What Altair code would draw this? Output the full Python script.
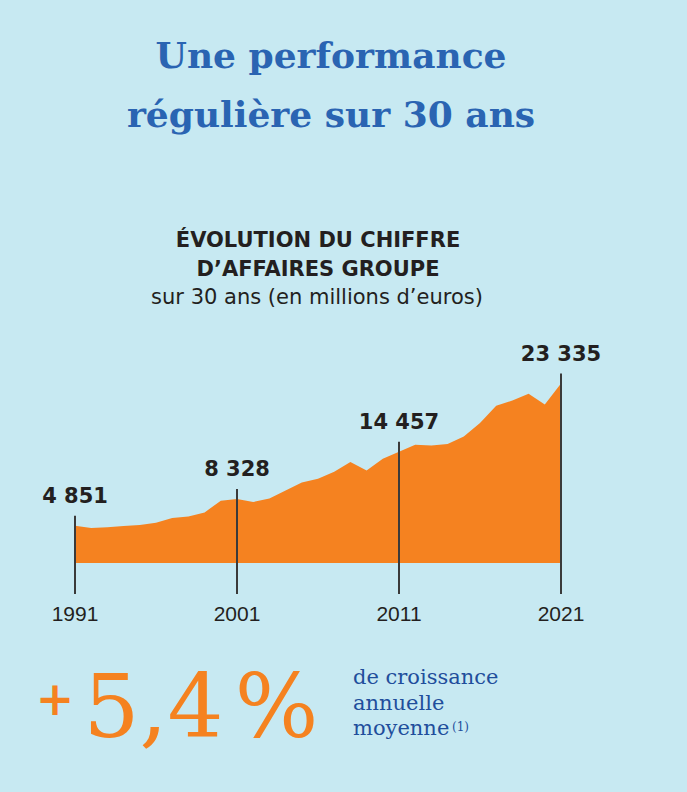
import altair as alt
import pandas as pd

# Group revenue, millions of euros
years = list(range(1991, 2022))
revenue = [
    4851, 4550, 4640, 4800, 4940, 5240, 5850, 6060, 6580, 8100,
    8328, 7925, 8400, 9440, 10480, 10960, 11850, 13120, 12040, 13550,
    14457, 15370, 15290, 15460, 16450, 18190, 20440, 21130, 22000, 20610,
    23335,
]
marked_years = [1991, 2001, 2011, 2021]

title_lines = ["Une performance", "régulière sur 30 ans"]
heading_lines = ["ÉVOLUTION DU CHIFFRE", "D’AFFAIRES GROUPE"]
heading_sub = "sur 30 ans (en millions d’euros)"
growth_value = "5,4"
growth_lines = ["de croissance", "annuelle", "moyenne"]
footnote_mark = "(1)"

BG = "#c7e9f2"
ORANGE = "#f58220"
BLUE = "#2a64b2"
NAVY = "#1f4e9c"
INK = "#231f20"
RULE = "#3a3a3a"

df = pd.DataFrame({"year": years, "revenue": revenue})
df["label"] = df["revenue"].map(lambda v: f"{v:,}".replace(",", " "))
marks_df = df[df["year"].isin(marked_years)]

x_enc = alt.X("year:Q", scale=alt.Scale(domain=[1991, 2021], range=[75, 561],
                                        nice=False, zero=False), axis=None)
y_enc = alt.Y("revenue:Q", scale=alt.Scale(domain=[0, 25000], range=[563, 370.7],
                                           nice=False), axis=None)

area = alt.Chart(df).mark_area(color=ORANGE, opacity=1).encode(x=x_enc, y=y_enc)

rules = alt.Chart(marks_df).mark_rule(color=RULE, strokeWidth=2, yOffset=-10).encode(
    x=x_enc, y=y_enc, y2=alt.value(594)
)

value_labels = alt.Chart(marks_df).mark_text(
    font="DejaVu Sans", fontWeight="bold", fontSize=21, color=INK,
    align="center", baseline="alphabetic", dy=-23
).encode(x=x_enc, y=y_enc, text="label:N")

year_labels = alt.Chart(marks_df).mark_text(
    font="Liberation Sans", fontSize=21, color=INK,
    align="center", baseline="alphabetic"
).encode(x=x_enc, y=alt.value(620.5), text="year:N")


def note(text, x, y, size, color, font, weight="normal", align="center"):
    return alt.Chart(pd.DataFrame({"t": [text]})).mark_text(
        font=font, fontSize=size, fontWeight=weight, color=color,
        align=align, baseline="alphabetic"
    ).encode(x=alt.value(x), y=alt.value(y), text="t:N")


texts = [
    note(title_lines[0], 331, 67.5, 36, BLUE, "DejaVu Serif", "bold"),
    note(title_lines[1], 331, 127, 36, BLUE, "DejaVu Serif", "bold"),
    note(heading_lines[0], 318, 247, 21, INK, "DejaVu Sans", "bold"),
    note(heading_lines[1], 318, 275.5, 21, INK, "DejaVu Sans", "bold"),
    note(heading_sub, 317, 303.5, 21, INK, "DejaVu Sans"),
    note("+", 55, 715, 46, ORANGE, "DejaVu Serif", "bold"),
    note(growth_value, 153.5, 737, 88, ORANGE, "DejaVu Serif"),
    note("%", 276.5, 737, 88, ORANGE, "DejaVu Serif"),
    note(growth_lines[0], 353, 684, 21, NAVY, "DejaVu Serif", align="left"),
    note(growth_lines[1], 353, 710, 21, NAVY, "DejaVu Serif", align="left"),
    note(growth_lines[2], 353, 735, 21, NAVY, "DejaVu Serif", align="left"),
    note(footnote_mark, 452, 731, 12, NAVY, "DejaVu Serif", align="left"),
]

chart = alt.layer(area, rules, value_labels, year_labels, *texts).properties(
    width=687, height=792, background=BG,
    autosize=alt.AutoSizeParams(type="none"), padding=0,
).configure_view(stroke=None)

chart.save("out.html", embed_options={"renderer": "svg", "actions": False})
